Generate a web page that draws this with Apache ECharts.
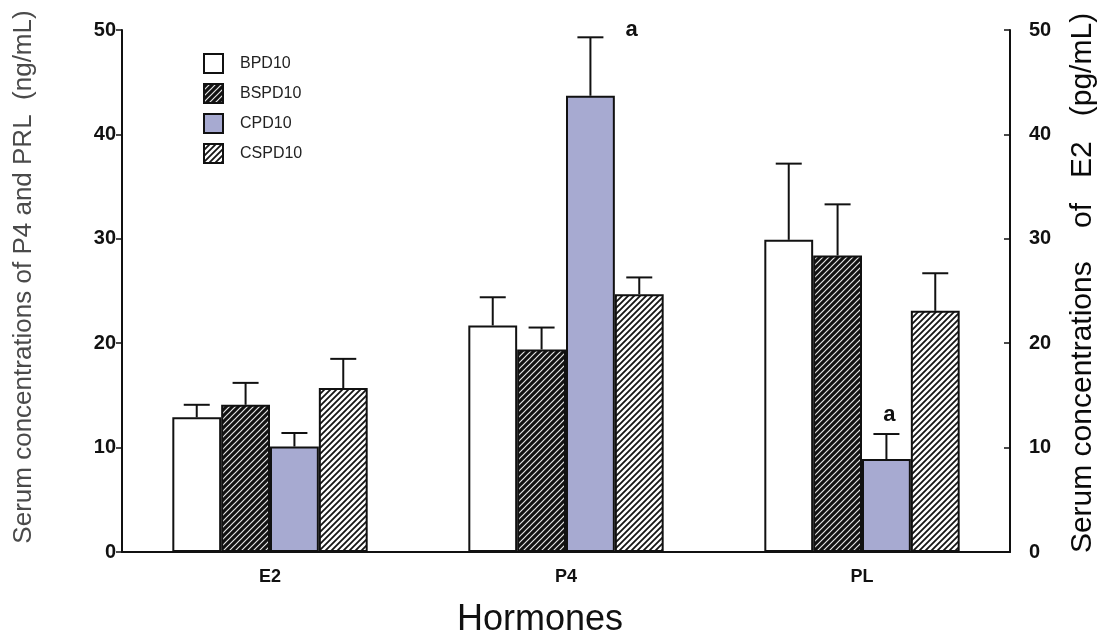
<!DOCTYPE html>
<html>
<head>
<meta charset="utf-8">
<script src="https://cdn.jsdelivr.net/npm/echarts@6/dist/echarts.min.js"></script>
<style>
  html, body { margin: 0; padding: 0; background: #ffffff; }
  #chart { width: 1106px; height: 637px; }
</style>
</head>
<body>
<div id="chart"></div>
<script>
// Hormone groups on the x axis
const categories = ['E2', 'P4', 'PL'];
const groupNames = ['BPD10', 'BSPD10', 'CPD10', 'CSPD10'];

// Mean serum concentrations (E2 in pg/mL, P4 and PRL in ng/mL)
const bpd10 = [12.9, 21.7, 29.9];
const bspd10 = [14.1, 19.4, 28.4];
const cpd10 = [10.1, 43.7, 8.9];
const cspd10 = [15.7, 24.7, 23.1];

// Upper error bar lengths
const bpd10Err = [1.2, 2.7, 7.3];
const bspd10Err = [2.1, 2.1, 4.9];
const cpd10Err = [1.3, 5.6, 2.4];
const cspd10Err = [2.8, 1.6, 3.6];

// Significance letters
const cpd10Sig = ['', 'a', 'a'];
const noSig = ['', '', ''];

// Axis range
const yMin = 0;
const yMax = 50;
const yStep = 10;

const CAT_GAP = 0.34;
const FONT = '"Liberation Sans", Arial, sans-serif';

// Diagonal hatch tiles
function hatch(bg, fg, lw) {
  const s = 6;
  const c = document.createElement('canvas');
  c.width = s; c.height = s;
  const g = c.getContext('2d');
  g.fillStyle = bg;
  g.fillRect(0, 0, s, s);
  g.strokeStyle = fg;
  g.lineWidth = lw;
  g.beginPath();
  g.moveTo(0, s); g.lineTo(s, 0);
  g.moveTo(-1, 1); g.lineTo(1, -1);
  g.moveTo(s - 1, s + 1); g.lineTo(s + 1, s - 1);
  g.stroke();
  return c;
}

const fills = [
  '#ffffff',
  { image: hatch('#111111', '#e6e6e6', 1.2), repeat: 'repeat' },
  '#a7aad1',
  { image: hatch('#ffffff', '#151515', 1.8), repeat: 'repeat' }
];

const means = [bpd10, bspd10, cpd10, cspd10];
const errs = [bpd10Err, bspd10Err, cpd10Err, cspd10Err];
const sigs = [noSig, noSig, cpd10Sig, noSig];

function errorRenderer(k) {
  return function (params, api) {
    const ci = api.value(0);
    const m = api.value(1);
    const e = api.value(2);
    const catW = api.size([1, 0])[0];
    const barW = catW * (1 - CAT_GAP) / groupNames.length;
    const base = api.coord([ci, m]);
    const x = base[0] - barW * groupNames.length / 2 + barW * (k + 0.5);
    const top = api.coord([ci, m + e])[1];
    const half = 13;
    const children = [
      { type: 'line', shape: { x1: x, y1: base[1], x2: x, y2: top },
        style: { stroke: '#111', lineWidth: 2 } },
      { type: 'line', shape: { x1: x - half, y1: top, x2: x + half, y2: top },
        style: { stroke: '#111', lineWidth: 2 } }
    ];
    const letter = sigs[k][params.dataIndex];
    if (letter) {
      // Letters sit beside the cap when there is no room above it
      const plotTop = api.coord([ci, yMax])[1];
      const nearTop = top - plotTop < 24;
      children.push({
        type: 'text',
        style: {
          text: letter,
          x: nearTop ? x + half + 22 : x + 3,
          y: nearTop ? top + 4 : top - 8,
          textAlign: nearTop ? 'left' : 'center',
          textVerticalAlign: 'bottom',
          font: 'bold 22px ' + FONT,
          fill: '#111'
        }
      });
    }
    return { type: 'group', children: children };
  };
}

const barSeries = groupNames.map(function (name, k) {
  return {
    name: name,
    type: 'bar',
    data: means[k],
    barGap: '0%',
    barCategoryGap: (CAT_GAP * 100) + '%',
    itemStyle: { color: fills[k], borderColor: '#111', borderWidth: 2 },
    z: 2
  };
});

const errSeries = groupNames.map(function (name, k) {
  return {
    name: name + ' error',
    type: 'custom',
    renderItem: errorRenderer(k),
    data: categories.map(function (c, i) { return [i, means[k][i], errs[k][i]]; }),
    encode: { x: 0, y: 1 },
    z: 3,
    silent: true
  };
});

const axisLabelStyle = { fontFamily: FONT, fontWeight: 'bold', fontSize: 20, color: '#111' };

const chart = echarts.init(document.getElementById('chart'), null, { renderer: 'canvas' });
chart.setOption({
  backgroundColor: '#ffffff',
  animation: false,
  title: {
    text: 'Hormones',
    left: 452,
    top: 597,
    textStyle: { fontFamily: FONT, fontSize: 36, fontWeight: 'normal', color: '#111' }
  },
  legend: {
    data: groupNames,
    orient: 'vertical',
    left: 198,
    top: 48,
    icon: 'rect',
    itemWidth: 19,
    itemHeight: 19,
    itemGap: 9,
    textStyle: { fontFamily: FONT, fontSize: 16, color: '#222', padding: [0, 0, 0, 12] }
  },
  grid: { left: 122, right: 92, top: 30, bottom: 85, containLabel: false },
  xAxis: {
    type: 'category',
    data: categories,
    axisLine: { lineStyle: { color: '#111', width: 2 } },
    axisTick: { inside: true, length: 6, lineStyle: { color: '#111', width: 1.5 } },
    axisLabel: { fontFamily: FONT, fontWeight: 'bold', fontSize: 18, color: '#111', margin: 16 }
  },
  yAxis: [
    {
      type: 'value',
      position: 'left',
      min: yMin, max: yMax, interval: yStep,
      name: 'Serum concentrations of P4 and PRL  (ng/mL)',
      nameLocation: 'middle',
      nameRotate: 90,
      nameGap: 85,
      nameTextStyle: { fontFamily: FONT, fontSize: 26, color: '#4a4a4a', padding: [0, 0, 0, 28] },
      axisLine: { show: true, lineStyle: { color: '#111', width: 2 } },
      axisTick: { show: true, inside: false, length: 6, lineStyle: { color: '#111', width: 1.5 } },
      axisLabel: Object.assign({ margin: 6 }, axisLabelStyle),
      splitLine: { show: false }
    },
    {
      type: 'value',
      position: 'right',
      min: yMin, max: yMax, interval: yStep,
      name: 'Serum concentrations    of   E2   (pg/mL)',
      nameLocation: 'middle',
      nameRotate: 90,
      nameGap: 58,
      nameTextStyle: { fontFamily: FONT, fontSize: 30, color: '#0a0a0a', padding: [0, 0, 0, 16] },
      axisLine: { show: true, lineStyle: { color: '#111', width: 2 } },
      axisTick: { show: true, inside: true, length: 6, lineStyle: { color: '#111', width: 1.5 } },
      axisLabel: Object.assign({ margin: 19 }, axisLabelStyle),
      splitLine: { show: false }
    }
  ],
  series: barSeries.concat(errSeries)
});
</script>
</body>
</html>
